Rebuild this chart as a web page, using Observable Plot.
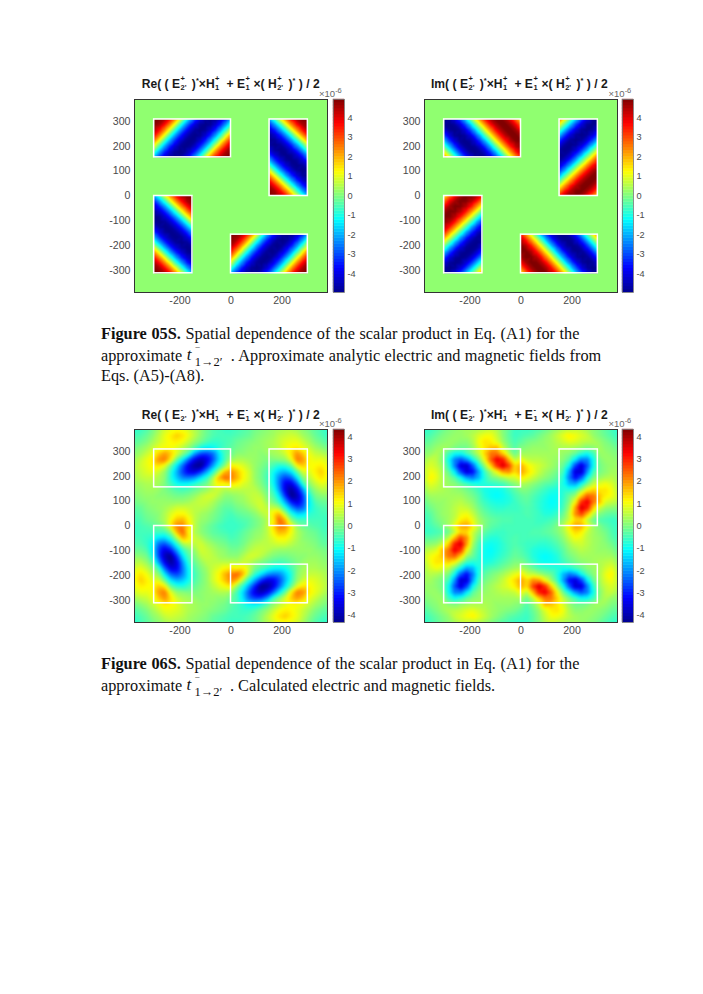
<!DOCTYPE html>
<html><head><meta charset="utf-8">
<script src="https://cdn.jsdelivr.net/npm/d3@7"></script>
<script src="https://cdn.jsdelivr.net/npm/@observablehq/plot@0.6"></script>
<style>
html,body{margin:0;padding:0;background:#fff;width:703px;height:994px;overflow:hidden}
#page{position:relative;width:703px;height:994px}
#page svg{position:absolute;overflow:visible;background:none}
#page svg image{filter:blur(0.6px)}
.title{position:absolute;font:bold 12.1px "Liberation Sans",Arial,sans-serif;color:#1a1a1a;white-space:nowrap;line-height:14px}
.title sup{font-size:7.5px;line-height:0;vertical-align:5px}
.st{display:inline-block;position:relative;width:8.5px;height:10px}
.st i,.st b{position:absolute;left:.5px;font-style:normal;font-size:7.5px;line-height:8px}
.st i{top:-3px}.st b{top:6px}
.exp{position:absolute;font:9.5px "Liberation Sans",Arial,sans-serif;color:#666;white-space:nowrap}
.exp sup{font-size:7.5px;line-height:0;vertical-align:4px}
.cap{position:absolute;left:101px;font:16.27px "Liberation Serif","Times New Roman",serif;color:#111;white-space:nowrap;line-height:20px}
.t{display:inline-block;position:relative;width:39.5px;height:16px;font-style:italic}
.t .m{position:absolute;left:0;top:0;font-size:17px}
.t .u{position:absolute;left:9px;top:-3px;font-size:11px;font-style:normal}
.t .d{position:absolute;left:8px;top:7px;font-size:12.5px;font-style:normal}
</style></head><body><div id="page"></div>
<script>
// Axis ticks
const xTicks = [-200, 0, 200];
const yTicks = [-300, -200, -100, 0, 100, 200, 300];
const xLimit = 378, yLimit = 387;
const barTicks = [-4, -3, -2, -1, 0, 1, 2, 3, 4];
const upperLimit = 4.95, lowerLimit = 4.33;

// Source rectangles (white outlines), clockwise quarter turns from the upper-left one
const rects = [
  {x1: -301, x2: 0, y1: 155, y2: 307, turn: 0},
  {x1: 151, x2: 301, y1: 0, y2: 307, turn: 1},
  {x1: 0, x2: 301, y1: -310, y2: -155, turn: 2},
  {x1: -301, x2: -151, y1: -310, y2: 0, turn: 3}
];
const quadrants = [
  {x1: -xLimit, x2: 0, y1: 0, y2: yLimit, turn: 0},
  {x1: 0, x2: xLimit, y1: 0, y2: yLimit, turn: 1},
  {x1: 0, x2: xLimit, y1: -yLimit, y2: 0, turn: 2},
  {x1: -xLimit, x2: 0, y1: -yLimit, y2: 0, turn: 3}
];

// Figure 05S, Re: values (x 1e-6) read across the upper-left rectangle, top row first
const re05 = [
[5,4.9,4.5,3.6,2.4,1,-.7,-2.1,-3.3,-4.2,-4.8,-5,-4.8,-4.2,-3.3,-2.1],
[4.9,4.5,3.6,2.4,1,-.7,-2.1,-3.3,-4.2,-4.8,-5,-4.8,-4.2,-3.3,-2.1,-.7],
[4.5,3.6,2.4,1,-.7,-2.1,-3.3,-4.2,-4.8,-5,-4.8,-4.2,-3.3,-2.1,-.7,1],
[3.6,2.4,1,-.7,-2.1,-3.3,-4.2,-4.8,-5,-4.8,-4.2,-3.3,-2.1,-.7,1,2.4],
[2.4,1,-.7,-2.1,-3.3,-4.2,-4.8,-5,-4.8,-4.2,-3.3,-2.1,-.7,1,2.4,3.6],
[1,-.7,-2.1,-3.3,-4.2,-4.8,-5,-4.8,-4.2,-3.3,-2.1,-.7,1,2.4,3.6,4.5],
[-.7,-2.1,-3.3,-4.2,-4.8,-5,-4.8,-4.2,-3.3,-2.1,-.7,1,2.4,3.6,4.5,4.9],
[-2.1,-3.3,-4.2,-4.8,-5,-4.8,-4.2,-3.3,-2.1,-.7,1,2.4,3.6,4.5,4.9,5]];

// Figure 05S, Im
const im05 = [
[-5,-4.8,-4.2,-3.2,-2,-.5,1,2.3,3.5,4.4,4.9,5,4.6,3.8,2.7,1.4],
[-4.8,-5,-4.8,-4.2,-3.2,-2,-.5,1,2.3,3.5,4.4,4.9,5,4.6,3.8,2.7],
[-4.1,-4.8,-5,-4.8,-4.2,-3.2,-2,-.5,1,2.3,3.5,4.4,4.9,5,4.6,3.8],
[-3.1,-4.1,-4.8,-5,-4.8,-4.2,-3.2,-2,-.5,1,2.3,3.5,4.4,4.9,5,4.6],
[-1.8,-3.1,-4.1,-4.8,-5,-4.8,-4.2,-3.2,-2,-.5,1,2.3,3.5,4.4,4.9,5],
[-.4,-1.8,-3.1,-4.1,-4.8,-5,-4.8,-4.2,-3.2,-2,-.5,1,2.3,3.5,4.4,4.9],
[1.1,-.4,-1.8,-3.1,-4.1,-4.8,-5,-4.8,-4.2,-3.2,-2,-.5,1,2.3,3.5,4.4],
[2.5,1.1,-.4,-1.8,-3.1,-4.1,-4.8,-5,-4.8,-4.2,-3.2,-2,-.5,1,2.3,3.5]];

// Figure 06S, Re: values read across the upper-left quadrant, top row first
const re06 = [
[-.7,-.6,-.4,-.1,.3,.7,.9,1,.9,.7,.4,.1,-.2,-.4,-.5,-.6],
[-.5,-.4,-.2,.1,.5,.9,1.2,1.5,1.3,.9,.5,.1,-.2,-.4,-.5,-.5],
[-.3,-.2,0,.3,.6,.9,1.1,1.2,1,.6,.2,-.1,-.4,-.6,-.6,-.5],
[-.1,.1,.3,.6,.9,1,1,.8,.5,.1,-.4,-.9,-1.1,-1,-.7,-.5],
[.1,.3,.6,.9,1.5,1.9,1.5,.8,.1,-.6,-1.9,-2.6,-2.7,-2.3,-1.3,-.5],
[.3,.6,.9,1.2,2,2.2,1.2,-.2,-1.2,-2.4,-3.4,-3.9,-3.5,-2.6,-1.4,-.5],
[.4,.7,.9,1.1,1.3,.9,-.2,-1.25,-2.4,-3.5,-4.2,-4.3,-3.1,-1.9,-.8,.1],
[.4,.6,.8,.9,.7,.2,-.7,-1.7,-2.7,-3.4,-3.5,-2.85,-1.85,-.8,.4,1.7],
[.3,.5,.6,.6,.4,.1,-.8,-1.5,-2.1,-2.2,-1.95,-1.3,-.7,.3,1.7,2.4],
[.2,.3,.4,.4,.3,0,-.5,-.95,-1.07,-1,-.7,-.4,-.1,.6,1.2,1.1],
[.1,.2,.3,.3,.2,0,-.2,-.4,-.5,-.4,-.2,0,.2,.5,.6,.4],
[0,.1,.2,.2,.1,.1,0,-.1,-.1,0,.2,.5,.7,.7,.4,.1],
[-.1,0,.1,.2,.2,.2,.2,.2,.2,.3,.5,.6,.6,.4,.1,-.1],
[-.3,-.2,0,.1,.2,.3,.5,.7,.7,.6,.5,.5,.4,.2,-.1,-.3],
[-.4,-.3,-.1,0,.1,.4,.8,1.1,1.1,.8,.5,.3,.2,0,-.2,-.4],
[-.5,-.4,-.2,-.1,.1,.4,1,1.6,1.7,1.1,.5,.2,.1,-.1,-.3,-.5],
[-.6,-.5,-.4,-.3,-.2,.2,1.2,2.1,2.2,1.3,.5,.1,-.1,-.3,-.5,-.6]];

// Figure 06S, Im
const im06 = [
[-.7,-.6,-.4,-.2,0,.1,.2,.3,.3,.4,.5,.6,.4,0,-.3,-.6],
[-.5,-.4,-.2,0,.1,.2,.2,.3,.5,.8,1,1,.6,.1,-.3,-.6],
[-.3,-.2,0,.1,.2,.2,.1,.1,.4,1,1.3,1.2,.8,.2,-.2,-.5],
[-.1,0,.2,.3,.2,0,-.1,-.1,.2,.8,1.3,1.6,1.7,.6,0,-.4],
[.1,.2,.4,.1,-.6,-1,-1,-.5,0,.6,1.5,2.3,2.3,1.5,.5,-.2],
[.3,.6,.5,0,-1,-2.2,-2.6,-2,-1,-.1,1.1,2.5,3.5,3.1,1.7,.5],
[.5,.8,.6,.2,-.7,-2.2,-3.7,-3.8,-2.5,-1,.2,1.5,2.9,3.7,2.8,1.4],
[.6,1,.8,.3,-.2,-1.2,-2.7,-3.7,-3.3,-1.9,-.6,.2,1,1.9,2.1,1.4],
[.5,1.2,.9,.4,.1,-.3,-1,-1.9,-2.25,-1.7,-.8,-.2,0,.3,.6,.7],
[.4,.9,.7,.4,.2,.1,-.2,-.5,-.8,-.9,-.8,-.7,-.6,-.5,-.2,.1],
[.2,.6,.5,.4,.3,.2,.1,-.1,-.3,-.6,-.9,-1,-1,-.9,-.6,-.3],
[0,.3,.3,.3,.3,.3,.3,.1,-.1,-.4,-.8,-1,-1.1,-1,-.8,-.5],
[-.2,.1,.2,.2,.3,.4,.5,.3,.1,-.3,-.6,-.8,-.9,-.9,-.8,-.6],
[-.4,-.1,.1,.2,.3,.5,.7,.6,.3,-.1,-.4,-.6,-.7,-.7,-.6,-.6],
[-.5,-.3,0,.2,.3,.5,.9,1,.6,.1,-.2,-.4,-.5,-.5,-.5,-.5],
[-.6,-.4,-.1,.1,.3,.6,1.2,1.4,.9,.3,0,-.2,-.3,-.4,-.4,-.5],
[-.6,-.5,-.3,0,.3,1,1.8,1.9,1.2,.4,0,-.3,-.4,-.5,-.5,-.5]];

// MATLAB jet stops
const jetStops = [0, .125, .375, .625, .875, 1];
const jetColors = ["#00008f", "#0000ff", "#00ffff", "#ffff00", "#ff0000", "#800000"];
const zeroGreen = "#90ff70";
const colorScale = lim => ({type: "linear", domain: jetStops.map(f => (2 * f - 1) * lim), range: jetColors, interpolate: "rgb", clamp: true});

// Lay a row table into a bounding box, in the box's quarter turn
function points(rows, box, halfOpen) {
  const ni = rows[0].length - (halfOpen ? 0 : 1), nj = rows.length - 1, out = [];
  rows.forEach((row, j) => row.forEach((v, i) => {
    const u = i / ni, w = j / nj;
    const [fx, fy] = [[u, w], [1 - w, u], [1 - u, 1 - w], [w, 1 - u]][box.turn];
    out.push({x: box.x1 + fx * (box.x2 - box.x1), y: box.y2 - fy * (box.y2 - box.y1), v});
  }));
  return out;
}

const page = document.getElementById("page");
const ML = 40, MR = 4, MT = 2, MB = 22, W = 193, H = 193;

function panel(left, top, marks, lim) {
  const map = Plot.plot({
    width: ML + W + MR, height: MT + H + MB,
    marginLeft: ML, marginRight: MR, marginTop: MT, marginBottom: MB,
    x: {domain: [-xLimit, xLimit], axis: null},
    y: {domain: [-yLimit, yLimit], axis: null},
    color: colorScale(lim),
    style: {fontFamily: "Liberation Sans, Arial, sans-serif", fontSize: "10.6px", color: "#4a4a4a", background: "none"},
    marks: [
      ...marks,
      Plot.rect(rects, {x1: "x1", x2: "x2", y1: "y1", y2: "y2", stroke: "#fff", strokeWidth: 1.5, fill: "none"}),
      Plot.frame({stroke: "#333", strokeWidth: 1}),
      Plot.axisX({ticks: xTicks, tickSize: 0, tickPadding: 4, tickFormat: d => String(d), label: null}),
      Plot.axisY({ticks: yTicks, tickSize: 0, tickPadding: 4, tickFormat: d => String(d), label: null})
    ]
  });
  map.style.left = (left - ML) + "px";
  map.style.top = (top - MT) + "px";
  page.appendChild(map);

  const levels = d3.range(64).map(k => -lim + (k + .5) * 2 * lim / 64);
  const bar = Plot.plot({
    width: 11 + 24, height: MT + H + MB,
    marginLeft: 0, marginRight: 24, marginTop: MT, marginBottom: MB,
    x: {domain: [0, 1], axis: null},
    y: {domain: [-lim, lim], axis: null},
    color: colorScale(lim),
    style: {fontFamily: "Liberation Sans, Arial, sans-serif", fontSize: "9.2px", color: "#4a4a4a", background: "none"},
    marks: [
      Plot.rect(levels, {x1: 0, x2: 1, y1: d => d - lim / 64, y2: d => d + lim / 64, fill: d => d, inset: -0.2}),
      Plot.frame({stroke: "#777", strokeWidth: .8}),
      Plot.axisY({anchor: "right", ticks: barTicks, tickSize: 0, tickPadding: 3, tickFormat: d => String(d), label: null})
    ]
  });
  bar.style.left = (left + W + 5.5) + "px";
  bar.style.top = (top - MT) + "px";
  page.appendChild(bar);
}

function rectRasters(rows) {
  return rects.map(b => Plot.raster(points(rows, b, false), {
    x: "x", y: "y", fill: "v", x1: b.x1, x2: b.x2, y1: b.y1, y2: b.y2,
    interpolate: "barycentric", pixelSize: .5
  }));
}
function fieldRaster(rows) {
  const pts = quadrants.flatMap(b => points(rows, b, true));
  return [Plot.raster(pts, {
    x: "x", y: "y", fill: "v", x1: -xLimit, x2: xLimit, y1: -yLimit, y2: yLimit,
    interpolate: "barycentric", pixelSize: .5, blur: 2
  })];
}

const bg = Plot.rect([0], {x1: -xLimit, x2: xLimit, y1: -yLimit, y2: yLimit, fill: zeroGreen});
panel(134, 98.5, [bg, ...rectRasters(re05)], upperLimit);
panel(423.5, 98.5, [bg, ...rectRasters(im05)], upperLimit);
panel(134, 428.5, fieldRaster(re06), lowerLimit);
panel(423.5, 428.5, fieldRaster(im06), lowerLimit);

// Titles
const st = (m, s) => `<span class="st"><i>${m}</i><b>${s}</b></span>`;
const title = (p, m) => `${p}( ( E${st(m, "2'")} )<sup>*</sup>×H${st(m, "1")} + E${st(m, "1")}×( H${st(m, "2'")} )<sup>*</sup> ) / 2`;
[[141.7, 76.5, "Re", "+"], [431, 76.5, "Im", "+"], [141.7, 407.5, "Re", "-"], [431, 407.5, "Im", "-"]].forEach(([x, y, p, m]) => {
  const d = document.createElement("div");
  d.className = "title"; d.style.left = x + "px"; d.style.top = y + "px";
  d.innerHTML = title(p, m);
  page.appendChild(d);
});
[[319, 88], [608.5, 88], [319, 418], [608.5, 418]].forEach(([x, y]) => {
  const d = document.createElement("div");
  d.className = "exp"; d.style.left = x + "px"; d.style.top = y + "px";
  d.innerHTML = "×10<sup>-6</sup>";
  page.appendChild(d);
});

// Captions
const tm = `<span class="t"><span class="m">t</span><span class="u">‾</span><span class="d">1→2′</span></span>`;
[
  [323.5, "<b>Figure 05S.</b> Spatial dependence of the scalar product in Eq. (A1) for the", .6],
  [345, `approximate ${tm} . Approximate analytic electric and magnetic fields from`, .4],
  [366, "Eqs. (A5)-(A8).", 0],
  [654, "<b>Figure 06S.</b> Spatial dependence of the scalar product in Eq. (A1) for the", .6],
  [675, `approximate ${tm} . Calculated electric and magnetic fields.`, 0]
].forEach(([y, html, ws]) => {
  const d = document.createElement("div");
  d.className = "cap"; d.style.top = y + "px"; d.style.wordSpacing = ws + "px";
  d.innerHTML = html;
  page.appendChild(d);
});
</script></body></html>
